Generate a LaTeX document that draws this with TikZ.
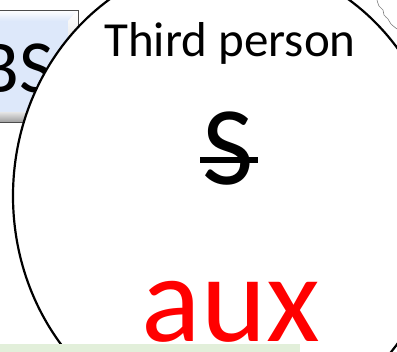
\documentclass[tikz,border=0pt]{standalone}
\usepackage{fontspec}
\setmainfont{Carlito}
\usepackage{xcolor}
\usepackage{tikz}
\usetikzlibrary{calc,positioning}
\definecolor{boxblue}{RGB}{221,232,250}
\definecolor{barverde}{RGB}{226,239,218}
\tikzset{
  bubble/.style={draw=black,line width=2.2pt,fill=white},
  bevelbox/.style={draw=gray!60!black,line width=0.8pt},
  word/.style={anchor=base,inner sep=0pt,text=black},
  strikeline/.style={line width=6.5pt}
}

\begin{document}
\begin{tikzpicture}[x=1pt,y=-1pt]
\useasboundingbox (0,0) rectangle (397,352);
\clip (0,0) rectangle (397,352);
% bevelled box on the left
\fill[boxblue] (-40,10) rectangle (78,122);
\shade[top color=white,bottom color=boxblue] (-40,10) -- (78,10) -- (68,21) -- (-40,21) -- cycle;
\shade[top color=white,bottom color=gray!60] (78,10) -- (78,122) -- (68,112) -- (68,21) -- cycle;
\shade[top color=gray!20,bottom color=gray!75] (-40,122) -- (78,122) -- (68,112) -- (-40,112) -- cycle;
\draw[bevelbox] (-40,10) rectangle (78,122);
\node[word,anchor=base east,font=\fontsize{75}{80}\selectfont] (bs) at (54,93) {BS};
% the big bubble
\draw[bubble] (229,196) ellipse [x radius=216pt, y radius=236pt];
\node[word,font=\fontsize{49}{52}\selectfont] (third) at (230,57) {Third person};
\node[word,font=\fontsize{112}{115}\selectfont] (subj) at (228,185) {S};
\draw[strikeline] (200,160) -- (258,160);
\node[word,text=red,font=\fontsize{124}{130}\selectfont] (aux) at (231,342) {aux};
% green strip and stray outline
\fill[barverde] (0,344) rectangle (300,352);
\draw[gray,line width=0.6pt] plot[smooth] coordinates {(377,0) (379,6) (383,10) (384,15) (388,19) (391,24) (397,29)};
\end{tikzpicture}
\end{document}
